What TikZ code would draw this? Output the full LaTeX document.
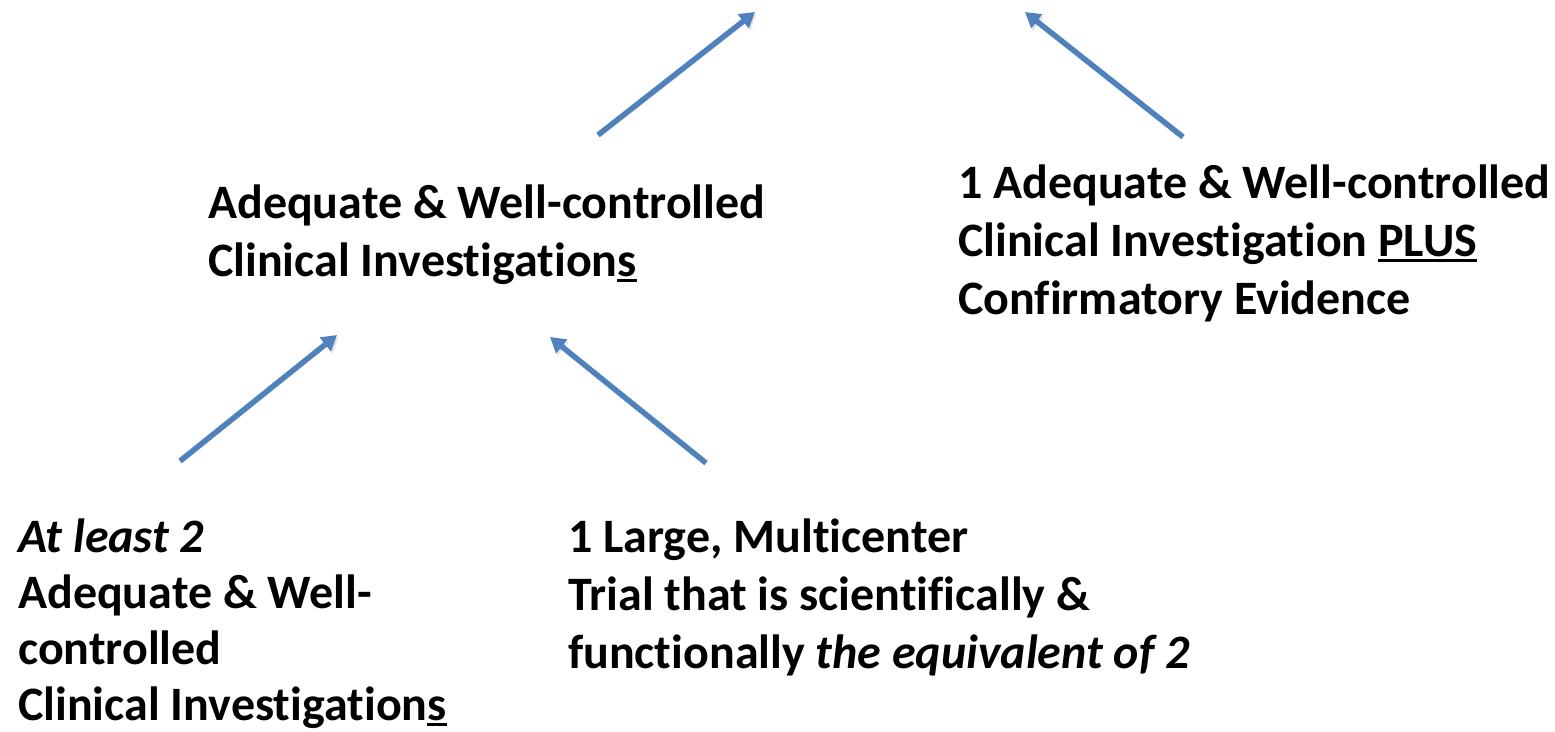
\documentclass[tikz,border=0pt]{standalone}
\usepackage{fontspec}
\setmainfont{Carlito}[Ligatures=NoCommon]
\usepackage{tikz}
\usetikzlibrary{positioning,arrows.meta}
\definecolor{arrowblue}{HTML}{4F81BD}
\newcommand\lineunder[1]{\leavevmode\vtop{\hbox{#1}\kern3pt\hrule height 2.6pt}}
\tikzset{
  claim/.style={anchor=base west, inner sep=0pt, align=left,
    font=\fontsize{48}{58}\selectfont\bfseries},
  support/.style={draw=arrowblue, line width=5.5pt,
    -{Triangle[length=15pt,width=17pt]},
    preaction={draw=black!30, opacity=0.35,
      transform canvas={shift={(1.5pt,-2.5pt)}}}}
}

\begin{document}
\begin{tikzpicture}[x=1pt,y=-1pt]
           \useasboundingbox (0,0) rectangle (1555,731);
           % base west = baseline of the last line
           \node[claim] (pair) at (208,276) {Adequate \& Well-controlled\\Clinical Investigation\lineunder{s}};
           \node[claim] (plus) at (958,314) {1 Adequate \& Well-controlled\\Clinical Investigation \lineunder{PLUS}\\Confirmatory Evidence};
           \node[claim,font=\fontsize{48}{56}\selectfont\bfseries] (two) at (18,720) {\textit{At least 2}\\Adequate \& Well-\\controlled\\Clinical Investigation\lineunder{s}};
           \node[claim] (large) at (568,668) {1 Large, Multicenter\\Trial that is scientifically \&\\functionally \textit{the equivalent of 2}};
           \coordinate (pair tail) at (598,135);
           \coordinate (pair tip) at (755,12);
           \coordinate (plus tail) at (1183,137);
           \coordinate (plus tip) at (1025,12);
           \coordinate (two tail) at (180,461);
           \coordinate (two tip) at (337,335);
           \coordinate (large tail) at (706,463);
           \coordinate (large tip) at (550,337);
            \draw[support] (pair tail) -- (pair tip);
            \draw[support] (plus tail) -- (plus tip);
            \draw[support] (two tail) -- (two tip);
            \draw[support] (large tail) -- (large tip);
        \end{tikzpicture}
\end{document}
